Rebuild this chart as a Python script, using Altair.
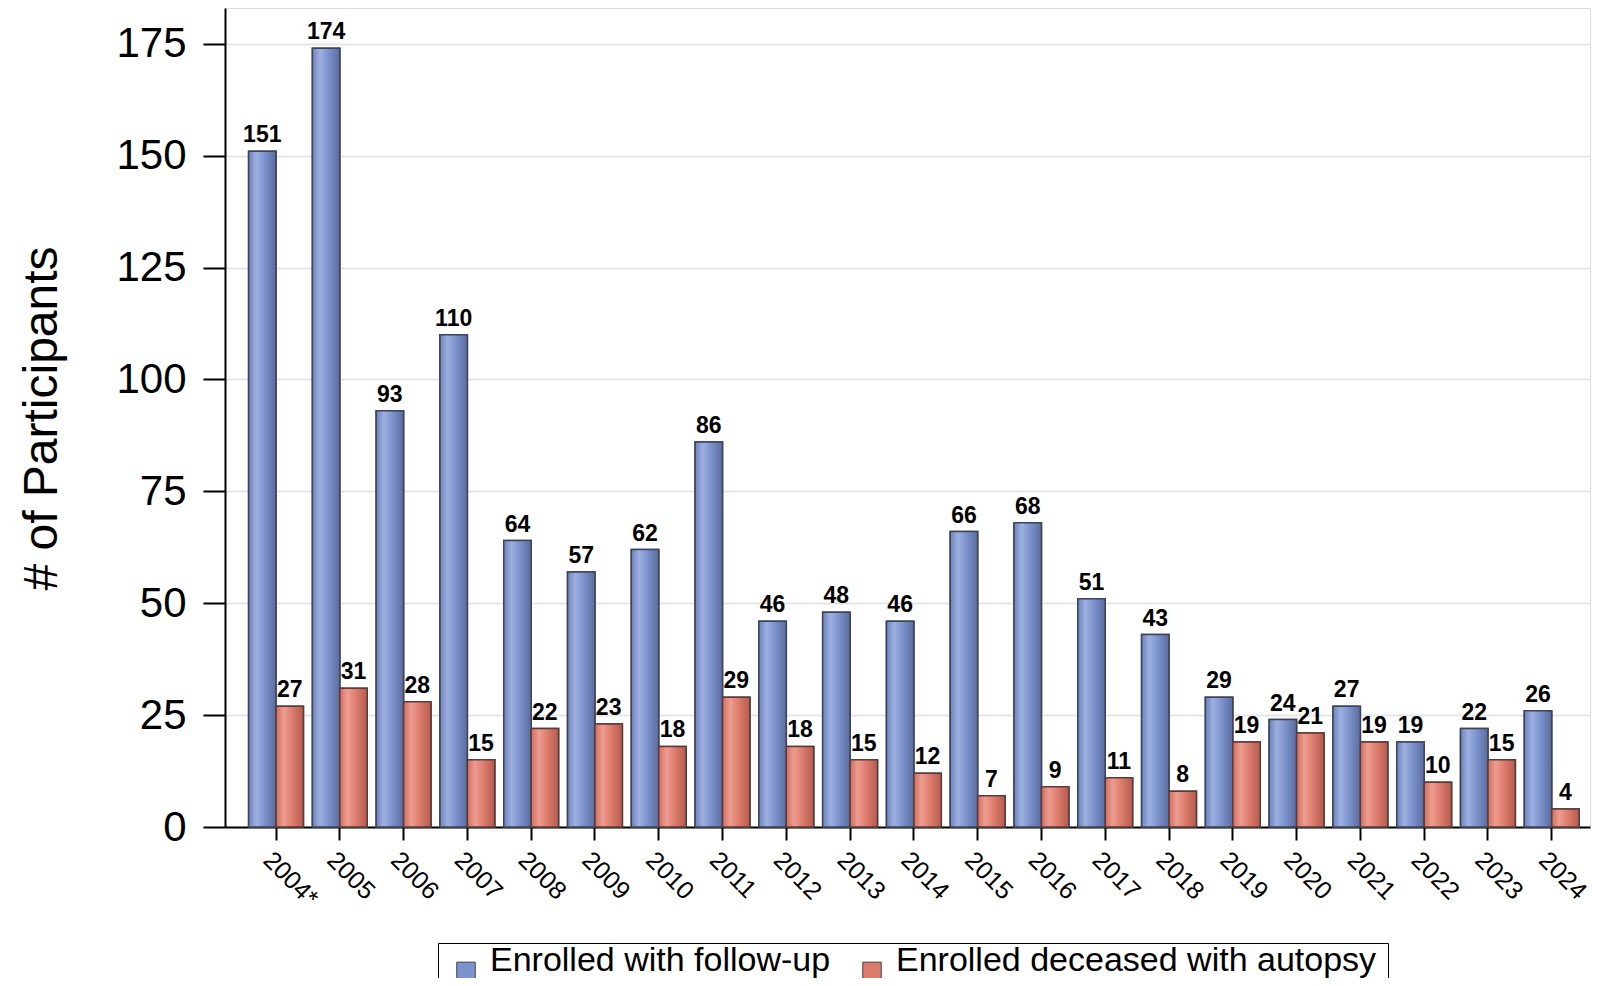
import altair as alt
import pandas as pd

years = ["2004*", "2005", "2006", "2007", "2008", "2009", "2010", "2011", "2012",
         "2013", "2014", "2015", "2016", "2017", "2018", "2019", "2020", "2021",
         "2022", "2023", "2024"]
follow_up = [151, 174, 93, 110, 64, 57, 62, 86, 46, 48, 46, 66, 68, 51, 43, 29, 24, 27, 19, 22, 26]
autopsy = [27, 31, 28, 15, 22, 23, 18, 29, 18, 15, 12, 7, 9, 11, 8, 19, 21, 19, 10, 15, 4]
series_names = ["Enrolled with follow-up", "Enrolled deceased with autopsy"]
y_ticks = [0, 25, 50, 75, 100, 125, 150, 175]

rows = []
for yr, a, b in zip(years, follow_up, autopsy):
    rows.append({"year": yr, "series": series_names[0], "value": a})
    rows.append({"year": yr, "series": series_names[1], "value": b})
df = pd.DataFrame(rows)

FONT = "Liberation Sans"

x_enc = alt.X(
    "year:N", sort=years,
    scale=alt.Scale(paddingInner=0.14, paddingOuter=0.27, align=0.685),
    axis=alt.Axis(title=None, labelAngle=45, labelAlign="left", labelBaseline="top",
                  labelFontSize=25, labelFont=FONT, labelColor="black", labelPadding=7,
                  tickSize=13, tickWidth=2, tickColor="black",
                  domainColor="black", domainWidth=2, grid=False),
)
xoff_enc = alt.XOffset("series:N", sort=series_names,
                       scale=alt.Scale(domain=series_names))
y_enc = alt.Y(
    "value:Q",
    scale=alt.Scale(domain=[0, 183], nice=False),
    axis=alt.Axis(values=y_ticks, title="# of Participants",
                  labelFontSize=42, labelFont=FONT, labelColor="black", labelPadding=17,
                  tickSize=22, tickWidth=2, tickColor="black",
                  domainColor="black", domainWidth=2,
                  grid=True, gridColor="#e6e6e6", gridWidth=2,
                  titleFontSize=48, titleFont=FONT, titleFontWeight="normal",
                  titleColor="black", titleX=-169, titleY=410,
                  titleAlign="center", titleBaseline="alphabetic"),
)

blue_grad = alt.Gradient(
    gradient="linear", x1=0, x2=1, y1=0, y2=0,
    stops=[alt.GradientStop(color="#6c82bd", offset=0),
           alt.GradientStop(color="#9db0e0", offset=0.28),
           alt.GradientStop(color="#7b91cb", offset=0.6),
           alt.GradientStop(color="#5a6c9f", offset=1)])
red_grad = alt.Gradient(
    gradient="linear", x1=0, x2=1, y1=0, y2=0,
    stops=[alt.GradientStop(color="#cf6e60", offset=0),
           alt.GradientStop(color="#ee9d90", offset=0.28),
           alt.GradientStop(color="#dc7b6c", offset=0.6),
           alt.GradientStop(color="#b45c50", offset=1)])

base = alt.Chart(df)

legend_bars = base.mark_bar(stroke="#404048", strokeWidth=1.5).encode(
    x=x_enc, xOffset=xoff_enc, y=y_enc,
    color=alt.Color("series:N", sort=series_names,
                    scale=alt.Scale(domain=series_names, range=["#7d93cf", "#dc7a6c"]),
                    legend=alt.Legend(title=None, orient="none", legendX=213, legendY=935,
                                      direction="horizontal", labelFontSize=34,
                                      labelFont=FONT, labelColor="black", labelLimit=1000,
                                      labelBaseline="alphabetic",
                                      symbolType="square", symbolSize=340,
                                      symbolStrokeColor="#404048", symbolStrokeWidth=1,
                                      strokeColor="black", padding=11,
                                      columnPadding=24, labelOffset=7)),
)

blue_bars = base.transform_filter(alt.datum.series == series_names[0]).mark_bar(
    fill=blue_grad, stroke="#3d4458", strokeWidth=1.5).encode(
    x=x_enc, xOffset=xoff_enc, y=y_enc)
red_bars = base.transform_filter(alt.datum.series == series_names[1]).mark_bar(
    fill=red_grad, stroke="#5a3a36", strokeWidth=1.5).encode(
    x=x_enc, xOffset=xoff_enc, y=y_enc)

labels = base.mark_text(dy=-9, fontSize=23, fontWeight="bold", font=FONT,
                        baseline="alphabetic", color="black").encode(
    x=x_enc, xOffset=xoff_enc, y=y_enc, text="value:Q")

chart = alt.layer(legend_bars, blue_bars, red_bars, labels).properties(
    width=1365, height=819,
    autosize=alt.AutoSizeParams(type="none"),
    padding={"left": 217, "top": 0, "right": 2, "bottom": 151},
).configure_view(strokeWidth=0).configure(background="white")

chart.save("out.html", embed_options={"renderer": "svg", "actions": False})
